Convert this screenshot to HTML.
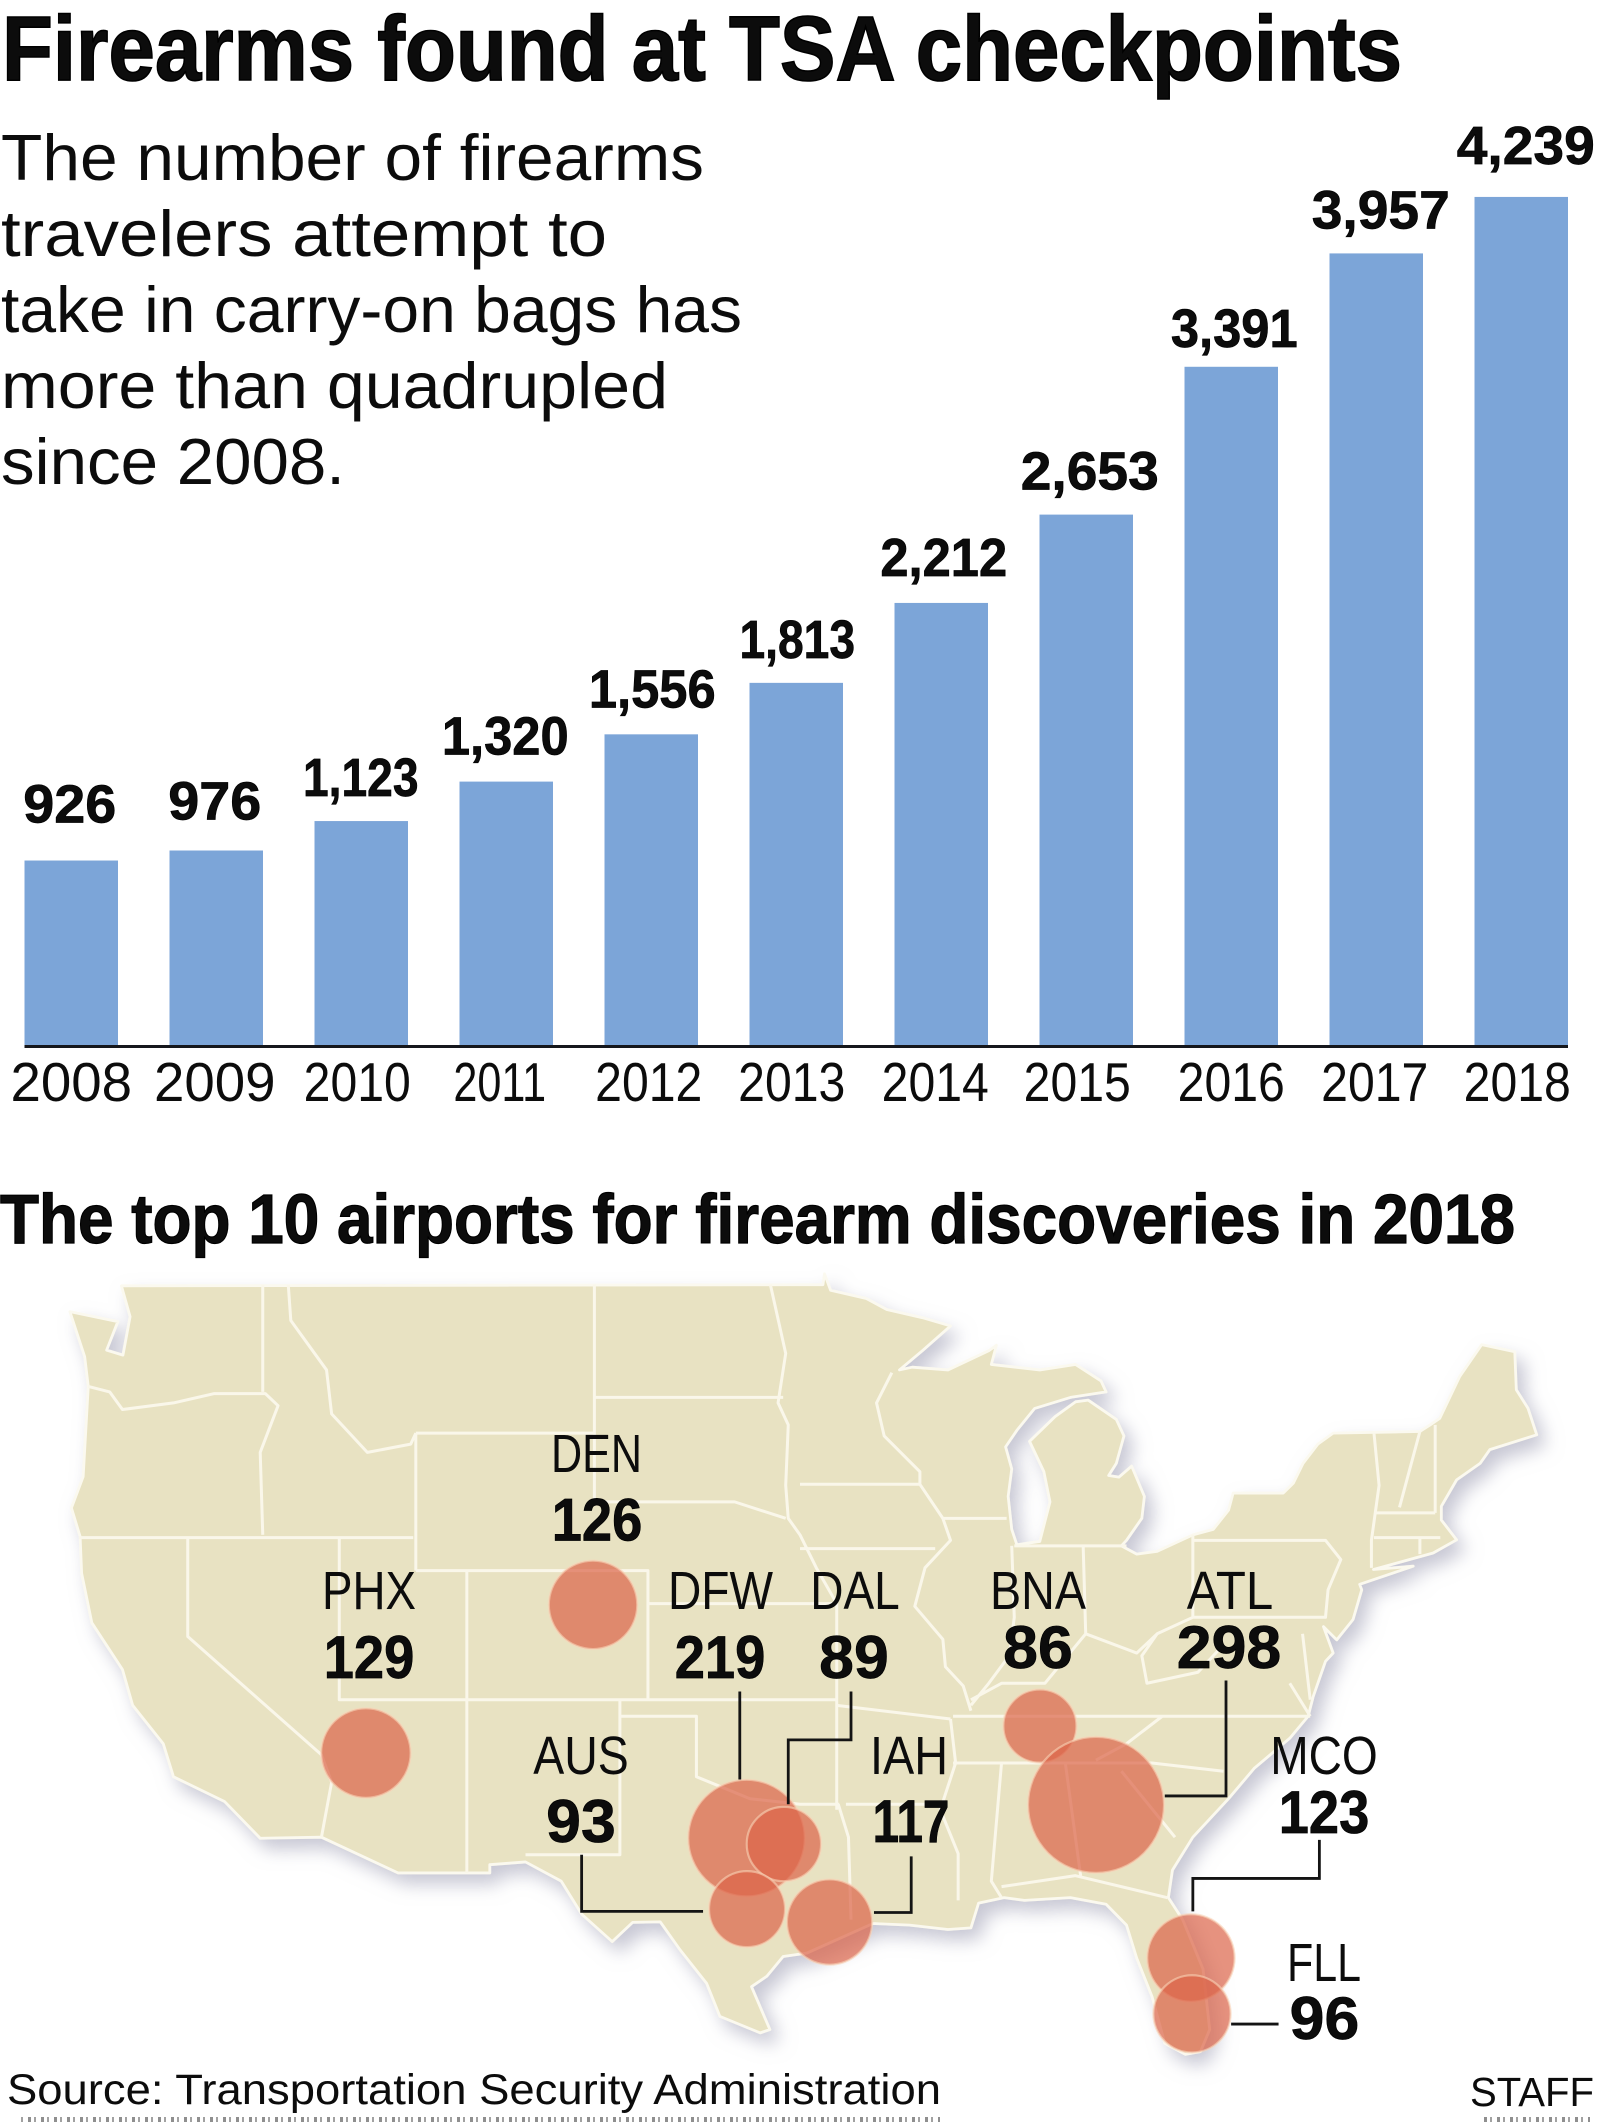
<!DOCTYPE html>
<html lang="en">
<head>
<meta charset="utf-8">
<title>Firearms found at TSA checkpoints</title>
<style>
html,body{margin:0;padding:0;background:#fff;}
body{width:1600px;height:2122px;overflow:hidden;}
svg{display:block;}
text{font-family:"Liberation Sans",Arial,sans-serif;fill:#0c0c0c;}
.state{fill:none;stroke:#faf7ea;stroke-width:3;vector-effect:non-scaling-stroke;stroke-linejoin:round;}
.leader{fill:none;stroke:#141414;stroke-width:2.8;vector-effect:non-scaling-stroke;}
</style>
</head>
<body>
<svg id="figure" xmlns="http://www.w3.org/2000/svg" width="1600" height="2122" viewBox="0 0 1600 2122">
  <defs>
    <filter id="mapShadow" filterUnits="userSpaceOnUse" x="0" y="1240" width="1600" height="882">
      <feDropShadow dx="8" dy="10" stdDeviation="9" flood-color="#9a9ab0" flood-opacity="0.55"/>
    </filter>
    <pattern id="cutTextPattern" patternUnits="userSpaceOnUse" width="13" height="6">
      <rect x="2" y="0" width="3" height="6" fill="#333"/>
      <rect x="8" y="0" width="2" height="6" fill="#555"/>
    </pattern>
  </defs>
  <rect width="1600" height="2122" fill="#fff"/>

  <text x="2" y="80" font-size="92" font-weight="700" stroke="#000" stroke-width="1.6" textLength="1400" lengthAdjust="spacingAndGlyphs">Firearms found at TSA checkpoints</text>

  <g font-size="65">
    <text x="1" y="180" textLength="703" lengthAdjust="spacingAndGlyphs">The number of firearms</text>
    <text x="1" y="256" textLength="606" lengthAdjust="spacingAndGlyphs">travelers attempt to</text>
    <text x="1" y="332" textLength="741" lengthAdjust="spacingAndGlyphs">take in carry-on bags has</text>
    <text x="1" y="408" textLength="667" lengthAdjust="spacingAndGlyphs">more than quadrupled</text>
    <text x="1" y="484" textLength="344" lengthAdjust="spacingAndGlyphs">since 2008.</text>
  </g>

  <g id="barChart"></g>

  <text x="0" y="1243" font-size="70" font-weight="700" stroke="#000" stroke-width="1.2" textLength="1515" lengthAdjust="spacingAndGlyphs">The top 10 airports for firearm discoveries in 2018</text>

  <g>
    <g filter="url(#mapShadow)">
      <path id="mapOutline" fill="#e8e2c2" stroke="#fbf9ef" stroke-width="2.8" stroke-linejoin="round" vector-effect="non-scaling-stroke" transform="translate(0,1260) scale(0.5102,0.5497)"/>
    </g>
    <g transform="translate(0,1260) scale(0.5102,0.5497)">
      <path class="state" d="M515,45V240 M173,230L215,240 240,272 340,260 420,243 520,243 545,265 510,350 515,500 M155,505H810 M565,45L570,110 640,200 650,280 720,350 805,335 815,315 M815,315H1165 M815,315V565 M815,565H1270V800 M1165,45V440 M1165,250H1535 M1165,440H1440L1540,470 M1270,625H1640 M915,565V1115 M665,505V800H1265 M368,505V685L630,900 650,950 630,1050 M1215,800V1082H1030 M1215,830H1365V940L1470,980 1568,990 1645,990 M1265,800H1640 M1510,45L1540,170 1525,260 1545,300 1540,410 1545,470 1568,500 1600,560 1640,625V1000"/>
    </g>
    <g transform="translate(800,1260) scale(0.5102,0.5497)">
      <path class="state" d="M0,408H235 M180,205L150,260 165,320 235,385 235,408 280,470 M280,470H405 M280,470L295,510 245,560 225,630 280,690 285,740 320,775 335,820 M0,525H265 M415,520L420,650 410,720 370,770 335,810 M555,520L560,680 M420,520H640 M335,800L395,770 480,770 560,680 660,715 700,680 M770,500V650L700,680 670,720 680,770 780,750 830,700 M770,510H1030L1060,545 1035,600 1030,650H770 M1125,315L1135,410 1120,510 1120,560 M1175,450L1215,312 M1245,300V460 M1125,460H1245 M1125,505H1255 M1215,505V535 M300,830H1000 M710,830L640,880 580,910 M300,915H690L830,930 M70,810L295,835 M295,835L305,915 275,1000 310,1080 310,1165 M90,990H275 M75,990L95,1050 100,1200 M395,915L375,1130 395,1160 M520,915L550,1120 M395,1140L540,1120 720,1160 M630,930L735,1050 M985,680L1000,800 M960,770L1000,830"/>
    </g>
    <g id="bubbles"></g>
    <g transform="translate(0,1260) scale(0.5102,0.5497)">
      <path class="leader" d="M1450,785V945"/>
      <path class="leader" d="M1668,785V873H1545V990"/>
      <path class="leader" d="M1140,1082V1185H1378"/>
      <path class="leader" d="M1786,1085V1187H1713"/>
      <path class="leader" d="M2403,765V975H2283"/>
      <path class="leader" d="M2586,1055V1125H2338V1185"/>
      <path class="leader" d="M2413,1390H2506"/>
    </g>
    <g id="airportLabels"></g>
  </g>

  <text x="7" y="2104" font-size="43" fill="#222" textLength="934" lengthAdjust="spacingAndGlyphs">Source: Transportation Security Administration</text>
  <text x="1470" y="2106" font-size="41" fill="#222" textLength="124" lengthAdjust="spacingAndGlyphs">STAFF</text>
  <rect x="20" y="2117" width="920" height="5" fill="url(#cutTextPattern)" opacity="0.55"/>
  <rect x="1482" y="2117" width="108" height="5" fill="url(#cutTextPattern)" opacity="0.55"/>
</svg>

<script>
// ---- Chart data ----
const years = ['2008','2009','2010','2011','2012','2013','2014','2015','2016','2017','2018'];
const firearmCounts = [926,976,1123,1320,1556,1813,2212,2653,3391,3957,4239];
const countLabels = ['926','976','1,123','1,320','1,556','1,813','2,212','2,653','3,391','3,957','4,239'];

const airportCodes = ['PHX','DEN','DFW','DAL','AUS','IAH','BNA','ATL','MCO','FLL'];
const airportCounts = [129,126,219,89,93,117,86,298,123,96];
const airportLon = [-114.24,-105.98,-100.40,-99.04,-100.38,-97.38,-89.73,-87.69,-84.24,-84.20];
const airportLat = [32.35,37.84,29.20,28.98,26.57,26.09,33.35,30.43,24.76,22.69];

// ---- Axis functions ----
const SVGNS = 'http://www.w3.org/2000/svg';
const baselineY = 1046;
const xBand = i => 24.5 + i * 145;
const barWidth = 93.5;
const yValue = v => baselineY - v * 0.2003;
const mapX = lon => 70 + (lon + 125) * 27.5;
const mapY = lat => 1290 + (49.5 - lat) * 27;
const radius = v => 3.94 * Math.sqrt(v);

// ---- Text fitting and label layout ----
const widthOf = (s, digit, one, comma) => [...s].reduce((w, c) => w + (c === '1' ? one : c === ',' ? comma : digit), 0);
const valueDx = [-1.5,-1.5,-0.5,-1,1,1,2.5,3.5,3,4.5,4.5];
const valueGap = [38,31,25,27,27,25,27,25,20,25,33];
const yearDx = [0,-1.5,-4,-6.5,-2.5,-4.5,-6,-9,0,-1.5,-4];
const labelLayout = {
  PHX:{cx:369,base:1609,w:94,vx:369,vbase:1678},
  DEN:{cx:596.5,base:1472,w:91,vx:597,vbase:1540.5},
  DFW:{cx:720.5,base:1609,w:105,vx:720,vbase:1678},
  DAL:{cx:855,base:1609,w:89.5,vx:854,vbase:1678},
  AUS:{cx:581,base:1774,w:95.5,vx:581,vbase:1842},
  IAH:{cx:909,base:1774,w:78,vx:911,vbase:1842},
  BNA:{cx:1038,base:1609,w:96,vx:1038,vbase:1668},
  ATL:{cx:1230,base:1609,w:86.5,vx:1229,vbase:1668},
  MCO:{cx:1324,base:1774,w:107.5,vx:1324,vbase:1833},
  FLL:{cx:1324,base:1981,w:74,vx:1324.5,vbase:2039}
};

function fittedText(parent, str, cx, base, size, weight, w) {
  const t = document.createElementNS(SVGNS, 'text');
  t.textContent = str;
  t.setAttribute('x', cx - w / 2);
  t.setAttribute('y', base);
  t.setAttribute('font-size', size);
  t.setAttribute('font-weight', weight);
  t.setAttribute('textLength', w);
  t.setAttribute('lengthAdjust', 'spacingAndGlyphs');
  if (weight === 700) {
    t.setAttribute('stroke', '#000');
    t.setAttribute('stroke-width', '0.7');
  }
  parent.appendChild(t);
  return t;
}

// ---- Bars ----
const barChart = document.getElementById('barChart');
years.forEach((year, i) => {
  const bar = document.createElementNS(SVGNS, 'rect');
  bar.setAttribute('x', xBand(i));
  bar.setAttribute('y', yValue(firearmCounts[i]));
  bar.setAttribute('width', barWidth);
  bar.setAttribute('height', baselineY - yValue(firearmCounts[i]));
  bar.setAttribute('fill', '#7ca5d8');
  
  
  barChart.appendChild(bar);

  const center = xBand(i) + barWidth / 2;
  const valueLabel = fittedText(barChart, countLabels[i], center + valueDx[i], yValue(firearmCounts[i]) - valueGap[i], 54, 700, widthOf(countLabels[i], 31, 19.8, 14));
  
  

  const yearLabel = fittedText(barChart, year, center + yearDx[i], 1101, 55, 400, widthOf(year, 30.4, 16, 0));
  
  
});
const axisLine = document.createElementNS(SVGNS, 'rect');
axisLine.setAttribute('x', 24.5);
axisLine.setAttribute('y', baselineY - 1);
axisLine.setAttribute('width', 1543.5);
axisLine.setAttribute('height', 3);
axisLine.setAttribute('fill', '#15171c');


barChart.appendChild(axisLine);

// ---- Map outline (map sheet geometry, west panel units with an east offset) ----
const outlineTop = [[238,47],[1568,45]];
const outlineEast = [[45,45],[48,25],[60,55],[130,70],[170,90],[240,105],[295,120],[240,165],[195,200],[220,195],[290,200],[370,165],[385,155],[375,190],[470,200],[540,190],[590,220],[600,240],[530,250],[460,270],[425,310],[403,340],[415,380],[408,430],[415,490],[425,518],[470,512],[490,440],[478,385],[450,330],[500,285],[540,258],[565,255],[620,290],[635,320],[620,370],[605,392],[625,395],[650,375],[675,430],[670,470],[640,510],[630,520],[660,535],[700,530],[770,500],[810,490],[840,455],[849,424],[947,424],[967,406],[986,370],[1015,335],[1045,315],[1215,312],[1235,300],[1254,288],[1293,212],[1336,154],[1401,167],[1404,236],[1427,270],[1444,318],[1352,345],[1333,370],[1287,400],[1257,448],[1257,473],[1287,509],[1241,533],[1124,563],[1202,557],[1097,590],[1101,600],[1084,654],[1052,691],[1026,667],[1045,715],[1030,730],[1006,794],[996,830],[960,870],[890,925],[840,980],[770,1050],[730,1110],[722,1160],[750,1200],[790,1290],[803,1400],[785,1440],[755,1445],[715,1425],[690,1340],[660,1270],[640,1210],[600,1172],[530,1160],[440,1165],[400,1160],[350,1170],[335,1215],[290,1218],[215,1210],[143,1207],[13,1261]];
const outlineSouth = [[1535,1267],[1503,1303],[1473,1322],[1509,1400],[1490,1406],[1411,1376],[1385,1316],[1333,1255],[1294,1204],[1240,1205],[1200,1240],[1140,1190],[1100,1130],[1030,1095],[960,1100],[960,1115],[780,1115],[630,1050],[510,1052],[440,985],[340,940],[320,880],[260,810],[240,745],[180,660],[160,570],[157,503],[140,451],[163,394],[173,230],[166,176],[137,94],[231,112],[209,164],[241,173],[255,103]];
const outlinePts = outlineTop.concat(outlineEast.map(p => [p[0] + 1568, p[1]]), outlineSouth);
document.getElementById('mapOutline').setAttribute('d', 'M' + outlinePts.map(p => p.join(',')).join(' L') + 'Z');

// ---- Bubbles and airport labels ----
const bubbles = document.getElementById('bubbles');
const airportLabels = document.getElementById('airportLabels');
airportCodes.forEach((code, i) => {
  const c = document.createElementNS(SVGNS, 'circle');
  c.setAttribute('cx', mapX(airportLon[i]));
  c.setAttribute('cy', mapY(airportLat[i]));
  c.setAttribute('r', radius(airportCounts[i]));
  c.setAttribute('fill', 'rgb(219,100,72)');
  c.setAttribute('fill-opacity', '0.7');
  c.setAttribute('stroke', '#f8d3b8');
  c.setAttribute('stroke-opacity', '0.6');
  c.setAttribute('stroke-width', '2.2');
  
  
  bubbles.appendChild(c);

  const pos = labelLayout[code];
  const codeLabel = fittedText(airportLabels, code, pos.cx, pos.base, 54, 400, pos.w);
  
  

  const countStr = String(airportCounts[i]);
  const countLabel = fittedText(airportLabels, countStr, pos.vx, pos.vbase, 60, 700, widthOf(countStr, 34.8, 21, 0));
  
  
});
</script>
</body>
</html>
